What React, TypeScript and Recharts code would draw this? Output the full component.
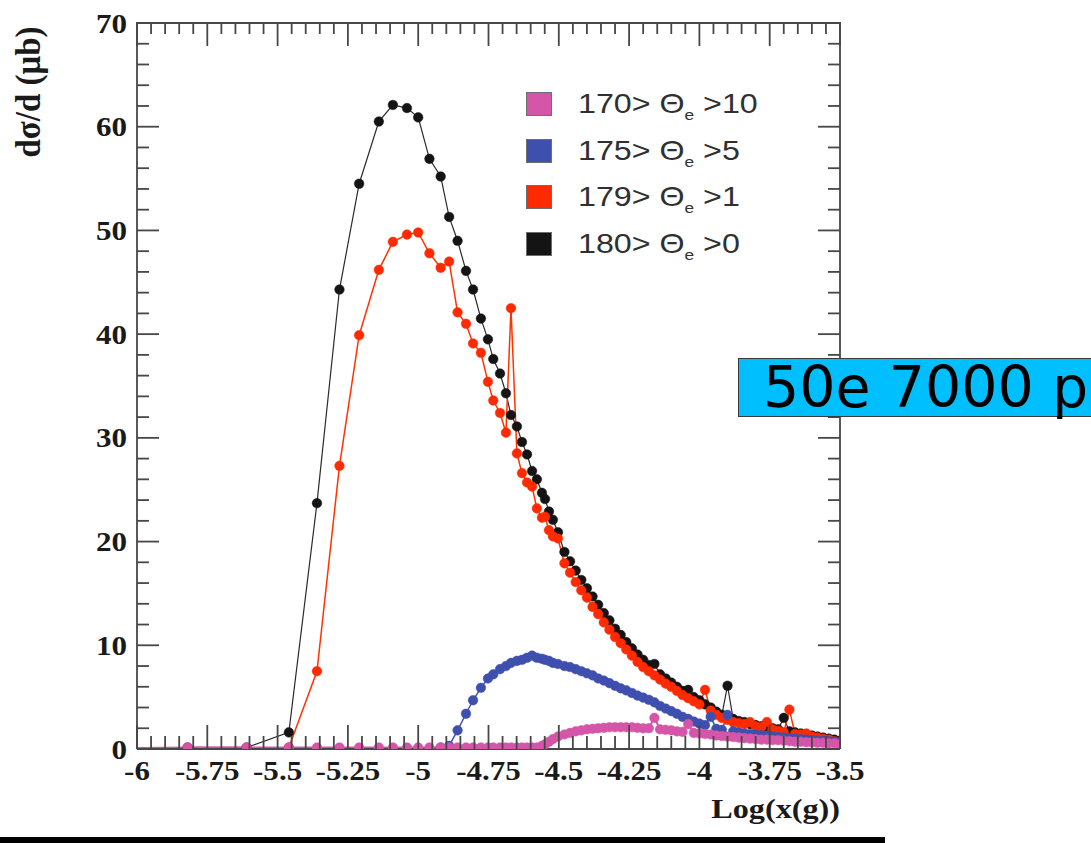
import React from 'react';
import { LineChart, Line, XAxis, YAxis, Legend } from 'recharts';

// log10(x(g)) positions of the bins
const LOG_X = [
  -6.03, -5.82, -5.61, -5.46, -5.36, -5.28, -5.21, -5.14, -5.09, -5.04,
  -5.0, -4.96, -4.92, -4.89, -4.86, -4.83, -4.805, -4.777, -4.752, -4.733,
  -4.709, -4.688, -4.67, -4.649, -4.631, -4.613, -4.595, -4.578, -4.56, -4.549,
  -4.535, -4.521, -4.503,
  -4.48, -4.46, -4.44, -4.42, -4.4, -4.38, -4.36, -4.34, -4.32, -4.3,
  -4.28, -4.26, -4.24, -4.22, -4.2, -4.18, -4.16, -4.14, -4.12, -4.1,
  -4.08, -4.06, -4.04, -4.02, -4.0, -3.98, -3.96, -3.94, -3.92, -3.9,
  -3.88, -3.86, -3.84, -3.82, -3.8, -3.78, -3.76, -3.74, -3.72, -3.7,
  -3.68, -3.66, -3.64, -3.62, -3.6, -3.58, -3.56, -3.54, -3.52, -3.5,
];

// 180 > theta_e > 0
const SIGMA_180 = [
  null, 0.15, 0.15, 1.6, 23.7, 44.3, 54.5, 60.5, 62.1, 61.8,
  60.9, 56.9, 55.2, 51.3, 49.0, 46.1, 44.3, 41.5, 39.5, 37.6,
  36.2, 34.3, 32.2, 31.1, 29.6, 28.4, 26.8, 26.0, 24.7, 24.1,
  22.9, 22.1, 20.9,
  19.0, 18.1, 17.2, 16.3, 15.5, 14.7, 13.9, 13.1, 12.4, 11.6,
  11.0, 10.3, 9.7, 9.1, 8.6, 8.1, 8.2, 7.2, 6.8, 6.4,
  6.0, 5.6, 5.7, 5.0, 4.7, 4.3, 4.0, 3.6, 3.3, 6.1,
  2.9, 2.7, 2.6, 2.4, 2.3, 2.2, 2.1, 2.0, 1.9, 3.0,
  1.7, 1.6, 1.5, 1.4, 1.3, 1.2, 1.1, 1.0, 0.9, 0.8,
];

// 179 > theta_e > 1
const SIGMA_179 = [
  null, null, null, 0.15, 7.5, 27.3, 39.9, 46.2, 48.9, 49.6,
  49.8, 47.8, 46.4, 47.0, 42.1, 41.0, 39.1, 38.2, 35.4, 33.6,
  32.4, 30.5, 42.5, 28.5, 26.6, 25.7, 25.3, 23.2, 22.3, 22.4,
  21.1, 20.5, 20.3,
  17.9, 17.0, 16.1, 15.3, 14.6, 13.7, 13.0, 12.2, 11.5, 10.8,
  10.2, 9.6, 9.0, 8.4, 7.9, 7.5, 7.1, 6.7, 6.3, 6.0,
  5.6, 5.2, 4.9, 4.6, 4.3, 5.7, 3.7, 3.3, 3.0, 2.8,
  2.6, 2.5, 2.4, 2.6, 2.2, 2.1, 2.6, 1.9, 1.75, 1.6,
  3.8, 1.45, 1.4, 1.5, 1.2, 1.1, 1.0, 0.9, 0.75, 0.6,
];

// 175 > theta_e > 5
const SIGMA_175 = [
  null, null, null, null, null, null, null, null, null, null,
  null, null, 0.15, 0.3, 1.8, 3.4, 4.7, 5.9, 6.8, 7.2,
  7.7, 8.0, 8.3, 8.5, 8.6, 8.8, 9.0, 8.8, 8.7, 8.6,
  8.5, 8.3, 8.2,
  8.0, 7.9, 7.7, 7.5, 7.3, 7.1, 6.8, 6.6, 6.35, 6.1,
  5.85, 5.65, 5.4, 5.15, 4.95, 4.75, 4.5, 4.15, 3.9, 3.65,
  3.4, 3.1, 2.9, 2.65, 2.45, 2.3, 3.1, 1.95, 1.85, 3.3,
  1.7, 1.6, 1.5, 1.45, 1.4, 1.35, 1.3, 1.2, 1.15, 1.1,
  1.05, 1.0, 0.95, 0.9, 0.85, 0.8, 0.8, 0.75, 0.7, 0.65,
];

// 170 > theta_e > 10
const SIGMA_170 = [
  0.1, 0.15, 0.15, 0.15, 0.15, 0.15, 0.15, 0.15, 0.15, 0.15,
  0.15, 0.15, 0.15, 0.15, 0.15, 0.15, 0.15, 0.15, 0.15, 0.15,
  0.15, 0.15, 0.15, 0.15, 0.15, 0.15, 0.15, 0.15, 0.3, 0.45,
  0.7, 0.95, 1.2,
  1.4, 1.55, 1.7, 1.8, 1.9, 1.95, 2.0, 2.05, 2.1, 2.1,
  2.1, 2.1, 2.1, 2.05, 2.0, 2.0, 3.0, 1.9, 1.85, 1.8,
  1.7, 1.65, 2.4, 1.55, 1.5, 1.45, 1.4, 1.3, 1.25, 1.2,
  1.15, 1.1, 1.05, 1.0, 0.95, 0.9, 0.9, 0.85, 0.85, 0.8,
  0.75, 0.7, 0.7, 0.65, 0.65, 0.6, 0.6, 0.55, 0.55, 0.5,
];

const X_MAJOR = [-6, -5.75, -5.5, -5.25, -5, -4.75, -4.5, -4.25, -4, -3.75, -3.5];
const X_LABELS = ['-6', '-5.75', '-5.5', '-5.25', '-5', '-4.75', '-4.5', '-4.25', '-4', '-3.75', '-3.5'];
const Y_MAJOR = [0, 10, 20, 30, 40, 50, 60, 70];
const Y_LABELS = ['0', '10', '20', '30', '40', '50', '60', '70'];

// minor ticks: 0.05 on x, 2 on y
const X_TICKS: number[] = [];
for (let i = 0; i <= 50; i++) X_TICKS.push(Number((-6 + i * 0.05).toFixed(2)));
const Y_TICKS: number[] = [];
for (let v = 0; v <= 70; v += 2) Y_TICKS.push(v);

const SERIES = [
  { key: 's180', hi: '180', lo: '0', color: '#141414', line: '#2a2a2a', width: 1.2, values: SIGMA_180 },
  { key: 's179', hi: '179', lo: '1', color: '#ff2a00', line: '#ff3300', width: 1.5, values: SIGMA_179 },
  { key: 's175', hi: '175', lo: '5', color: '#3f4fae', line: '#4252b0', width: 1.5, values: SIGMA_175 },
  { key: 's170', hi: '170', lo: '10', color: '#d556a9', line: '#d556a9', width: 2, values: SIGMA_170 },
];
const LEGEND_ORDER = ['s170', 's175', 's179', 's180'];

const data = LOG_X.map((x, i) => {
  const row: Record<string, number | null> = { x };
  SERIES.forEach((s) => {
    row[s.key] = s.values[i];
  });
  return row;
});

const AXIS = '#474747';
const SERIF = '"Liberation Serif", "Times New Roman", serif';
const PLOT_H = 726; // frame height, used to mirror the x ticks on the top edge

const findLabel = (v: number, major: number[], labels: string[]) => {
  const i = major.findIndex((m) => Math.abs(m - v) < 1e-6);
  return i >= 0 ? labels[i] : null;
};

// bottom axis draws inward ticks on both the bottom and the top edge of the frame
const BottomTick = (props: any) => {
  const { x, y, payload } = props;
  const lab = findLabel(payload.value, X_MAJOR, X_LABELS);
  const len = lab ? 24 : 13;
  return (
    <g>
      <line x1={x} x2={x} y1={y} y2={y - len} stroke={AXIS} strokeWidth={1.8} />
      <line x1={x} x2={x} y1={y - PLOT_H} y2={y - PLOT_H + (lab ? 23 : 11)} stroke={AXIS} strokeWidth={1.8} />
      {lab && (
        <text
          transform={`translate(${x},${y + 31}) scale(1.15,1)`}
          textAnchor="middle"
          fontFamily={SERIF}
          fontWeight="bold"
          fontSize={27}
          fill="#1a1a1a"
        >
          {lab}
        </text>
      )}
    </g>
  );
};

const LeftTick = (props: any) => {
  const { x, y, payload } = props;
  const lab = findLabel(payload.value, Y_MAJOR, Y_LABELS);
  return (
    <g>
      <line x1={x} x2={x + (lab ? 22 : 12)} y1={y} y2={y} stroke={AXIS} strokeWidth={1.8} />
      {lab && (
        <text
          transform={`translate(${x - 10},${y + 9.5}) scale(1.15,1)`}
          textAnchor="end"
          fontFamily={SERIF}
          fontWeight="bold"
          fontSize={27}
          fill="#1a1a1a"
        >
          {lab}
        </text>
      )}
    </g>
  );
};

const RightTick = (props: any) => {
  const { x, y, payload } = props;
  const major = findLabel(payload.value, Y_MAJOR, Y_LABELS);
  return <line x1={x} x2={x - (major ? 22 : 12)} y1={y} y2={y} stroke={AXIS} strokeWidth={1.8} />;
};

const YTitle = (props: any) => {
  const vb = props.viewBox;
  return (
    <text
      transform={`translate(${vb.x + 28},${vb.y + 69}) scale(1.1,1) rotate(-90)`}
      textAnchor="middle"
      dominantBaseline="central"
      fontFamily={SERIF}
      fontWeight="bold"
      fontSize={33}
      fill="#1a1a1a"
    >
      dσ/d (μb)
    </text>
  );
};

const XTitle = (props: any) => {
  const vb = props.viewBox;
  return (
    <text
      transform={`translate(${vb.x + vb.width},${vb.y + 69}) scale(1.15,1)`}
      textAnchor="end"
      fontFamily={SERIF}
      fontWeight="bold"
      fontSize={28}
      fill="#1a1a1a"
    >
      Log(x(g))
    </text>
  );
};

const LegendBox = () => (
  <div style={{ fontFamily: '"Liberation Sans", Arial, sans-serif' }}>
    {LEGEND_ORDER.map((k) => {
      const s = SERIES.find((e) => e.key === k)!;
      return (
        <div key={k} style={{ display: 'flex', alignItems: 'center', height: 46.5 }}>
          <div
            style={{
              width: 26,
              height: 24,
              background: s.color,
              border: '1.5px solid #6e6e6e',
              boxSizing: 'border-box',
            }}
          />
          <div
            style={{
              marginLeft: 26,
              fontSize: 28,
              lineHeight: 1,
              color: '#303030',
              whiteSpace: 'nowrap',
              transform: 'scaleX(1.15)',
              transformOrigin: 'left center',
            }}
          >
            {s.hi}&gt; Θ
            <span style={{ fontSize: 15, position: 'relative', top: 7 }}>e</span> &gt;{s.lo}
          </div>
        </div>
      );
    })}
  </div>
);

export default function App() {
  return (
    <div
      style={{
        position: 'absolute',
        left: 0,
        top: 0,
        width: 1091,
        height: 843,
        overflow: 'hidden',
        background: '#fff',
      }}
    >
      <LineChart width={1091} height={843} data={data} margin={{ top: 23, right: 241, bottom: 0, left: 0 }}>
        <XAxis
          xAxisId="b"
          type="number"
          dataKey="x"
          domain={[-6, -3.5]}
          allowDataOverflow
          ticks={X_TICKS}
          interval={0}
          height={94}
          tickSize={0}
          tickMargin={0}
          tickLine={false}
          axisLine={{ stroke: AXIS, strokeWidth: 1.8 }}
          tick={<BottomTick />}
          label={XTitle}
        />
        <YAxis
          yAxisId="l"
          type="number"
          domain={[0, 70]}
          allowDataOverflow
          ticks={Y_TICKS}
          interval={0}
          width={137}
          tickSize={0}
          tickMargin={0}
          tickLine={false}
          axisLine={{ stroke: AXIS, strokeWidth: 1.8 }}
          tick={<LeftTick />}
          label={YTitle}
        />
        <YAxis
          yAxisId="r"
          orientation="right"
          type="number"
          domain={[0, 70]}
          allowDataOverflow
          ticks={Y_TICKS}
          interval={0}
          width={10}
          tickSize={0}
          tickMargin={0}
          tickLine={false}
          axisLine={{ stroke: AXIS, strokeWidth: 1.8 }}
          tick={<RightTick />}
        />
        <Legend
          layout="vertical"
          align="center"
          verticalAlign="middle"
          content={<LegendBox />}
          wrapperStyle={{ left: 526, top: 81, width: 320, height: 190 }}
        />
        {SERIES.map((s) => (
          <Line
            key={s.key}
            xAxisId="b"
            yAxisId="l"
            type="linear"
            dataKey={s.key}
            stroke={s.line}
            strokeWidth={s.width}
            dot={{ r: 4.8, fill: s.color, stroke: s.color, strokeWidth: 0.5 }}
            activeDot={false}
            isAnimationActive={false}
          />
        ))}
      </LineChart>

      {/* top edge of the frame */}
      <div style={{ position: 'absolute', left: 136, top: 22, width: 705, height: 1.8, background: AXIS }} />

      <div
        style={{
          position: 'absolute',
          left: 738,
          top: 358,
          width: 420,
          height: 59,
          background: '#00bfff',
          border: '1px solid #3a3a3a',
          boxSizing: 'border-box',
          fontFamily: '"DejaVu Sans", sans-serif',
          fontSize: 57,
          lineHeight: '57px',
          paddingLeft: 24,
          color: '#000',
          whiteSpace: 'nowrap',
        }}
      >
        50e 7000 p
      </div>
      <div style={{ position: 'absolute', left: 0, top: 837, width: 885, height: 6, background: '#000' }} />
    </div>
  );
}
